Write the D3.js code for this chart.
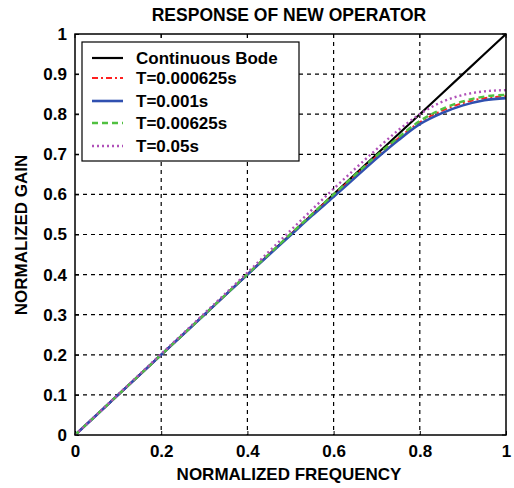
<!DOCTYPE html>
<html>
<head>
<meta charset="utf-8">
<script src="https://cdn.jsdelivr.net/npm/d3@7"></script>
<style>
  body { margin: 0; background: #fff; }
  text { font-family: "Liberation Sans", Arial, sans-serif; font-weight: bold; fill: #000; }
</style>
</head>
<body>
<script>
// normalized frequency sample points
var freqCont = [0, 0.1, 0.2, 0.3, 0.4, 0.5, 0.6, 0.7, 0.8, 0.9, 1.0];
var gainCont = [0, 0.1, 0.2, 0.3, 0.4, 0.5, 0.6, 0.7, 0.8, 0.9, 1.0];

var freq = [0, 0.1, 0.2, 0.3, 0.4, 0.5, 0.55, 0.6, 0.65, 0.7, 0.75, 0.8, 0.85, 0.9, 0.95, 1.0];
var gainT000625 = [0, 0.1, 0.2, 0.3, 0.401, 0.5, 0.55, 0.598, 0.647, 0.695, 0.74, 0.78, 0.808, 0.828, 0.84, 0.845];
var gainT001    = [0, 0.1, 0.2, 0.3, 0.4, 0.498, 0.547, 0.594, 0.642, 0.69, 0.735, 0.775, 0.802, 0.822, 0.835, 0.84];
var gainT00625  = [0, 0.1, 0.2, 0.3, 0.401, 0.501, 0.551, 0.6, 0.649, 0.697, 0.742, 0.783, 0.812, 0.832, 0.844, 0.848];
var gainT05     = [0, 0.101, 0.202, 0.303, 0.405, 0.51, 0.562, 0.614, 0.664, 0.713, 0.76, 0.8, 0.83, 0.848, 0.857, 0.86];

var seriesNames = ["Continuous Bode", "T=0.000625s", "T=0.001s", "T=0.00625s", "T=0.05s"];
var ticks = [0, 0.1, 0.2, 0.3, 0.4, 0.5, 0.6, 0.7, 0.8, 0.9, 1];
var xticks = [0, 0.2, 0.4, 0.6, 0.8, 1];

var series = [
  {name: seriesNames[0], x: freqCont, y: gainCont, color: "#000000", width: 2.2, dash: null},
  {name: seriesNames[1], x: freq, y: gainT000625, color: "#ff2020", width: 2, dash: "6,3,2,3"},
  {name: seriesNames[2], x: freq, y: gainT001, color: "#3050b0", width: 2.6, dash: null},
  {name: seriesNames[3], x: freq, y: gainT00625, color: "#50c040", width: 2.4, dash: "6,4"},
  {name: seriesNames[4], x: freq, y: gainT05, color: "#b050b8", width: 2.4, dash: "2,3"}
];

var W = 514, H = 488;
var margin = {top: 34, right: 8, bottom: 53, left: 75};
var width = W - margin.left - margin.right;
var height = H - margin.top - margin.bottom;

var svg = d3.select("body").append("svg")
  .attr("width", W).attr("height", H);
var g = svg.append("g")
  .attr("transform", "translate(" + margin.left + "," + margin.top + ")");

var xScale = d3.scaleLinear().domain([0, 1]).range([0, width]);
var yScale = d3.scaleLinear().domain([0, 1]).range([height, 0]);

// gridlines
g.append("g").selectAll("line").data(xticks.slice(1, -1)).enter().append("line")
  .attr("x1", d => xScale(d)).attr("x2", d => xScale(d))
  .attr("y1", 0).attr("y2", height)
  .attr("stroke", "#000").attr("stroke-width", 1.2).attr("stroke-dasharray", "4,4");
g.append("g").selectAll("line").data(ticks.slice(1, -1)).enter().append("line")
  .attr("y1", d => yScale(d)).attr("y2", d => yScale(d))
  .attr("x1", 0).attr("x2", width)
  .attr("stroke", "#000").attr("stroke-width", 1.2).attr("stroke-dasharray", "4,4");

// axes with inward ticks
var xAxis = d3.axisBottom(xScale).tickValues(xticks).tickSizeInner(-4).tickSizeOuter(0).tickPadding(10).tickFormat(d3.format("~g"));
var yAxis = d3.axisLeft(yScale).tickValues(ticks).tickSizeInner(-4).tickSizeOuter(0).tickPadding(8).tickFormat(d3.format("~g"));

var gx = g.append("g").attr("transform", "translate(0," + height + ")").call(xAxis);
var gy = g.append("g").call(yAxis);
[gx, gy].forEach(function(a) {
  a.select(".domain").remove();
  a.selectAll("line").attr("stroke", "#000");
  a.selectAll("text").style("font-size", "17px").style("font-family", "Liberation Sans, Arial, sans-serif").style("font-weight", "bold");
});
// top/right ticks
g.append("g").selectAll("line").data(xticks).enter().append("line")
  .attr("x1", d => xScale(d)).attr("x2", d => xScale(d)).attr("y1", 0).attr("y2", 4).attr("stroke", "#000");
g.append("g").selectAll("line").data(ticks).enter().append("line")
  .attr("y1", d => yScale(d)).attr("y2", d => yScale(d)).attr("x1", width).attr("x2", width - 4).attr("stroke", "#000");

// lines
var line = d3.line()
  .x(function(d) { return xScale(d[0]); })
  .y(function(d) { return yScale(d[1]); })
  .curve(d3.curveMonotoneX);

series.forEach(function(s) {
  var pts = s.x.map(function(v, i) { return [v, s.y[i]]; });
  g.append("path").datum(pts)
    .attr("d", line)
    .attr("fill", "none")
    .attr("stroke", s.color)
    .attr("stroke-width", s.width)
    .attr("stroke-dasharray", s.dash);
});

// frame
g.append("rect").attr("width", width).attr("height", height)
  .attr("fill", "none").attr("stroke", "#000").attr("stroke-width", 1.5);

// legend
var legend = g.append("g").attr("transform", "translate(7,8)");
legend.append("rect").attr("width", 217).attr("height", 119)
  .attr("fill", "#fff").attr("stroke", "#000").attr("stroke-width", 1.2);
var rows = [16, 36, 59, 81, 104];
series.forEach(function(s, i) {
  var r = legend.append("g").attr("transform", "translate(0," + rows[i] + ")");
  r.append("line").attr("x1", 10).attr("x2", 41).attr("y1", 0).attr("y2", 0)
    .attr("stroke", s.color).attr("stroke-width", s.width).attr("stroke-dasharray", s.dash);
  r.append("text").attr("x", 54).attr("y", 6).style("font-size", "17px").text(s.name);
});

// titles
svg.append("text").attr("x", 289).attr("y", 21).attr("text-anchor", "middle")
  .style("font-size", "17.5px").text("RESPONSE OF NEW OPERATOR");
svg.append("text").attr("x", 289).attr("y", 480).attr("text-anchor", "middle")
  .style("font-size", "17px").text("NORMALIZED FREQUENCY");
svg.append("text").attr("transform", "translate(27,235) rotate(-90)").attr("text-anchor", "middle")
  .style("font-size", "17px").text("NORMALIZED GAIN");
</script>
</body>
</html>
